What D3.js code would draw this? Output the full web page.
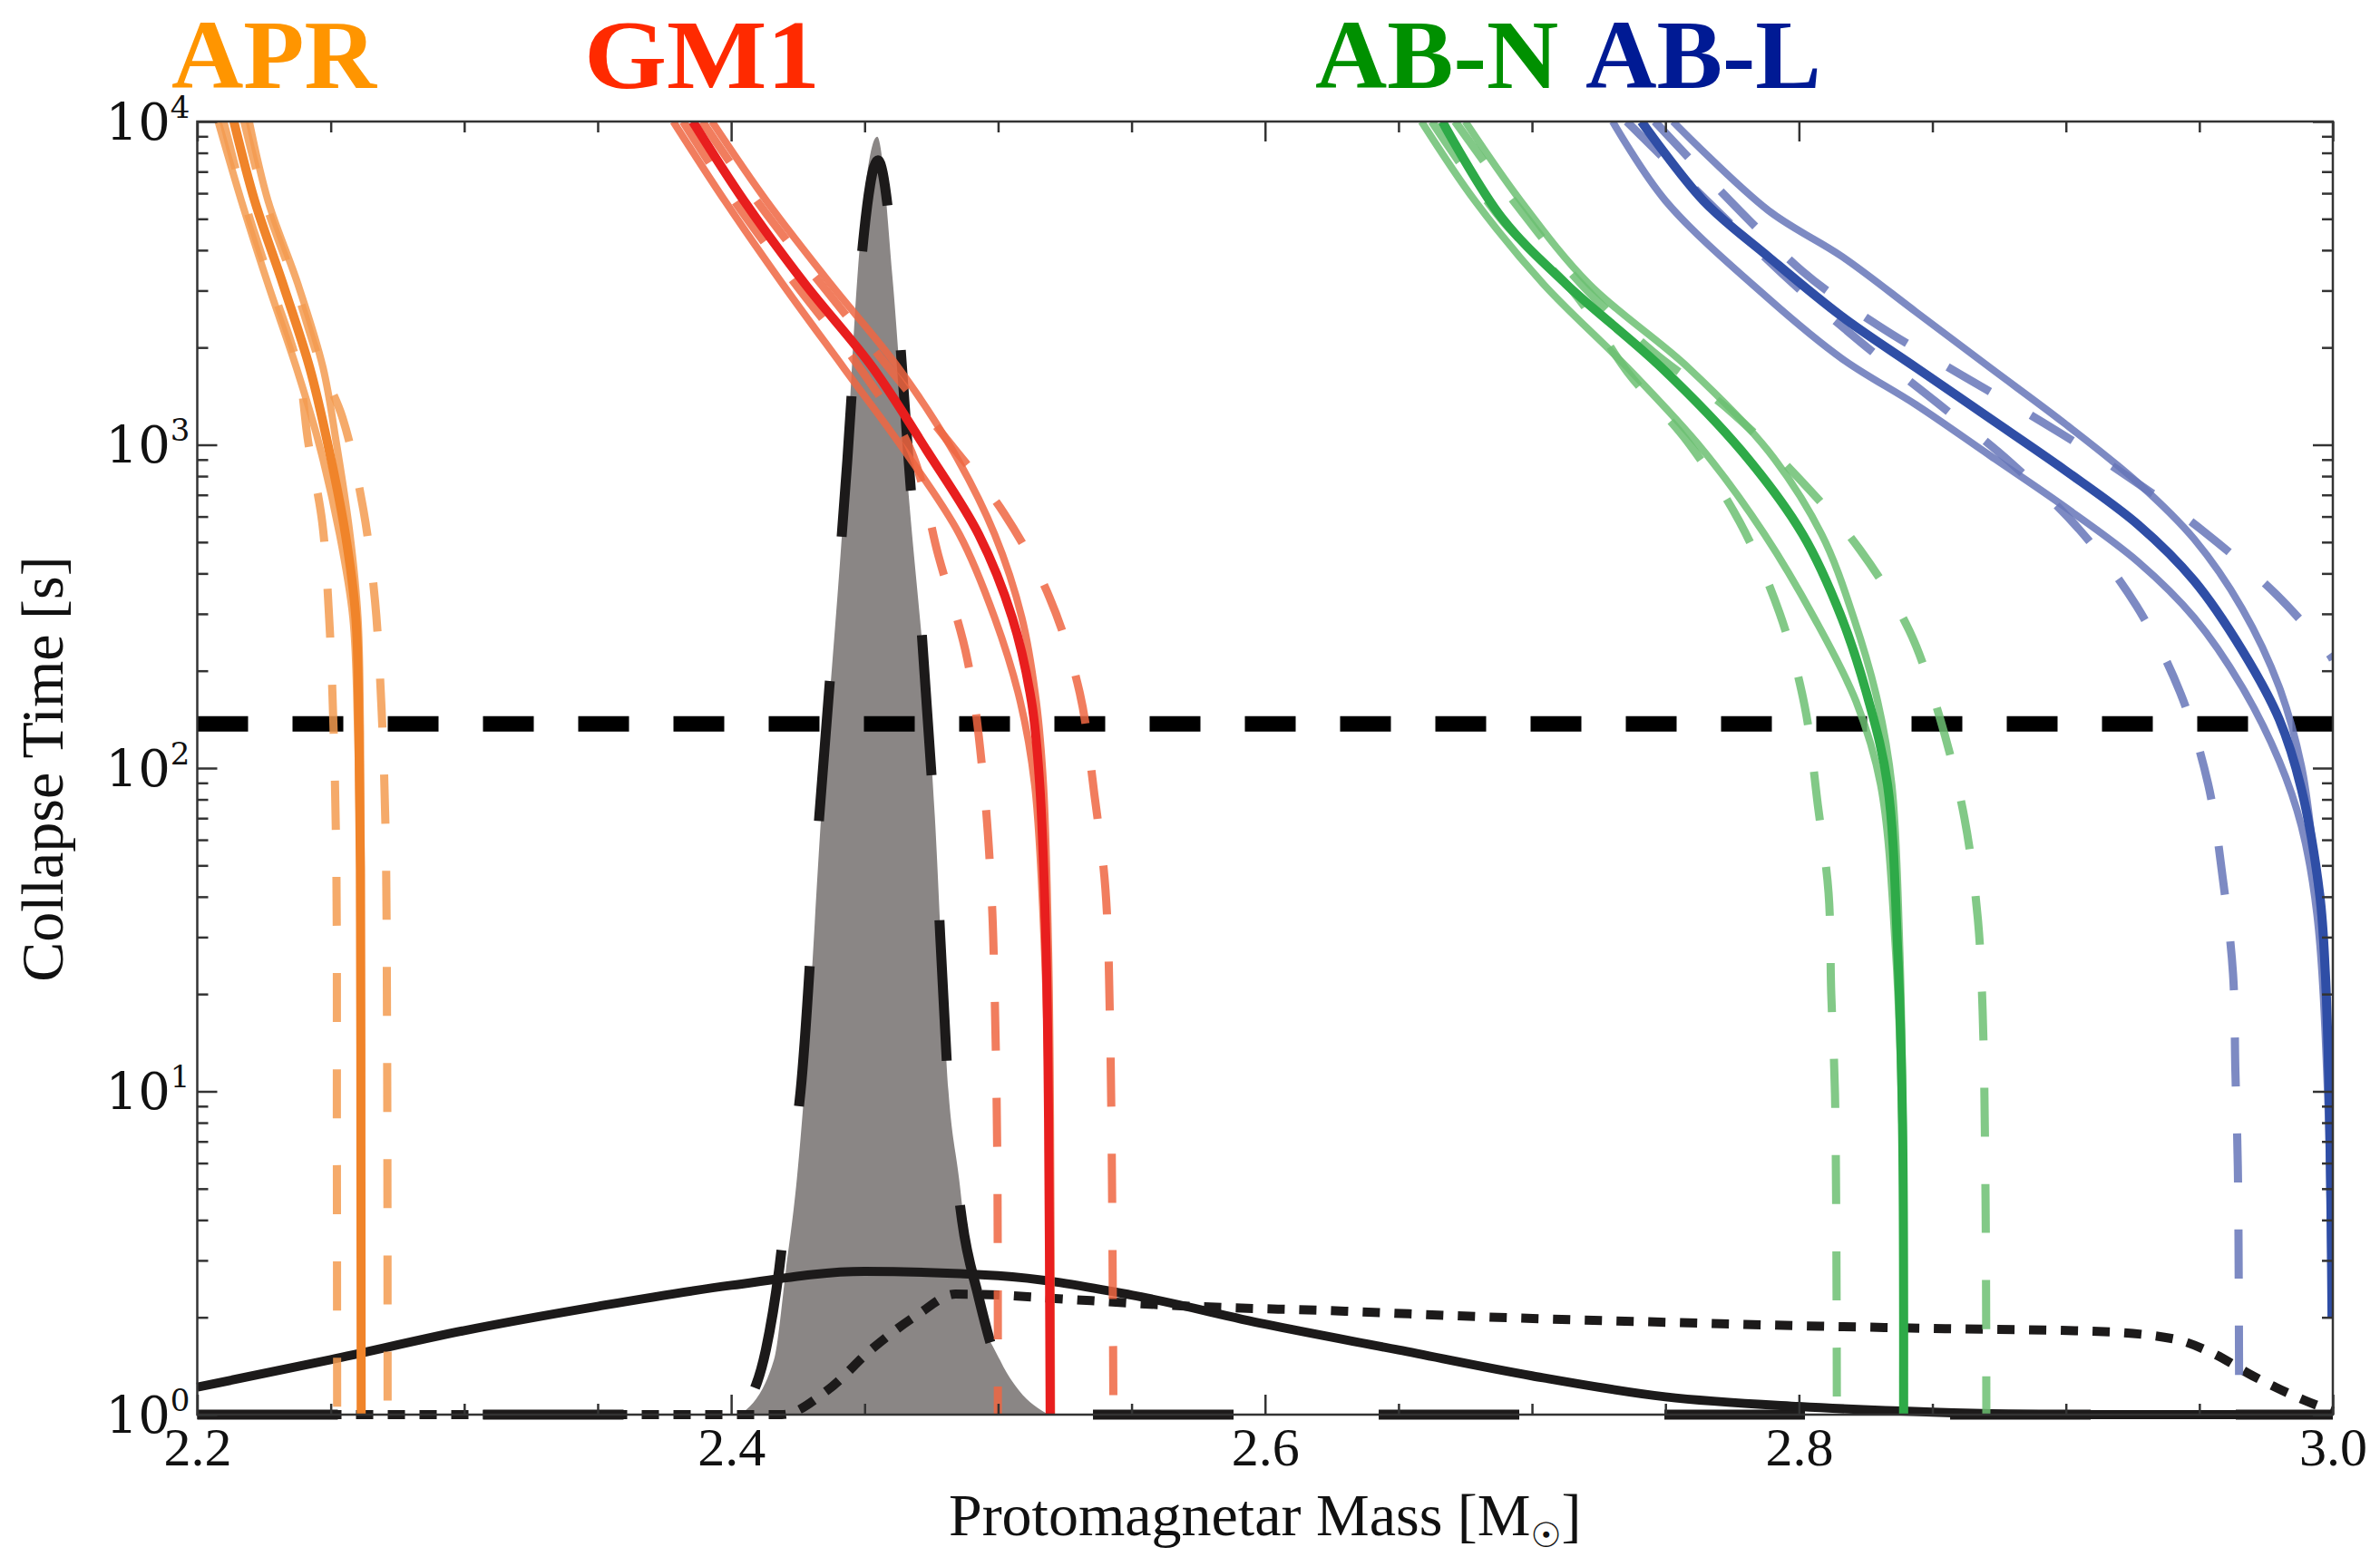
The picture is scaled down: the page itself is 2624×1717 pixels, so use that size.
<!DOCTYPE html>
<meta charset="utf-8" />
<script src="https://d3js.org/d3.v7.min.js"></script>
<style>
  body { margin: 0; background: #fff; }
  svg { display: block; }
</style>
<body>
  <div id="chart"></div>
</body>
<script>
  // all curves are [protomagnetar mass (Msun), log10 collapse time (s)]
  // APR
  const aprMid   = [[2.2137,4.0],[2.2215,3.755],[2.2321,3.497],[2.2421,3.239],[2.2488,3.006],[2.2555,2.723],[2.2594,2.465],[2.2605,2.136],[2.2611,1.69],[2.2613,0.8],[2.2614,0]];
  const aprLo    = [[2.2078,4.0],[2.2165,3.755],[2.2265,3.497],[2.2371,3.239],[2.2455,3.006],[2.2533,2.723],[2.2583,2.465],[2.2600,2.136],[2.2609,1.69],[2.2613,0.8],[2.2614,0]];
  const aprHi    = [[2.2195,4.0],[2.2265,3.755],[2.2377,3.497],[2.2471,3.239],[2.2521,3.006],[2.2572,2.723],[2.2602,2.465],[2.2611,2.136],[2.2614,1.69],[2.2615,0.8],[2.2615,0]];
  const aprDashL = [[2.2098,4.0],[2.2176,3.755],[2.2276,3.497],[2.2377,3.239],[2.2416,3.006],[2.2468,2.761],[2.2494,2.465],[2.2510,2.136],[2.2521,1.69],[2.2523,0.8],[2.2524,0]];
  const aprDashR = [[2.2176,4.0],[2.2254,3.755],[2.2365,3.497],[2.2466,3.239],[2.2544,3.084],[2.2622,2.80],[2.2666,2.516],[2.2689,2.206],[2.2705,1.82],[2.2711,1.174],[2.2713,0]];
  // GM1
  const gm1Mid   = [[2.3856,4.0],[2.4048,3.755],[2.4277,3.497],[2.4530,3.239],[2.4734,2.981],[2.4927,2.723],[2.5053,2.465],[2.5125,2.206],[2.5156,1.948],[2.5180,1.432],[2.5189,0.916],[2.5195,0]];
  const gm1Lo    = [[2.3783,4.0],[2.3976,3.755],[2.4193,3.497],[2.4421,3.239],[2.4650,2.981],[2.4855,2.723],[2.4987,2.465],[2.5083,2.206],[2.5137,1.948],[2.5174,1.432],[2.5189,0.916],[2.5193,0]];
  const gm1Hi    = [[2.3928,4.0],[2.4132,3.755],[2.4373,3.497],[2.4626,3.239],[2.4831,2.981],[2.4987,2.723],[2.5089,2.465],[2.5143,2.206],[2.5170,1.948],[2.5189,1.432],[2.5196,0.916],[2.5200,0]];
  const gm1DashL = [[2.3820,4.0],[2.4012,3.755],[2.4241,3.497],[2.4481,3.239],[2.4674,2.981],[2.4776,2.658],[2.4885,2.335],[2.4945,1.961],[2.4975,1.613],[2.4987,1.303],[2.4997,0.787],[2.4999,0]];
  const gm1DashR = [[2.3892,4.0],[2.4096,3.755],[2.4337,3.497],[2.4590,3.239],[2.4818,3.006],[2.5023,2.787],[2.5192,2.529],[2.5306,2.232],[2.5360,1.922],[2.5402,1.626],[2.5420,1.174],[2.5432,0]];
  // AB-N
  const abnMid   = [[2.6664,4.0],[2.6886,3.703],[2.7128,3.497],[2.7485,3.239],[2.7785,2.981],[2.8014,2.723],[2.8160,2.465],[2.8262,2.206],[2.8332,1.948],[2.8370,1.432],[2.8388,0.9],[2.8392,0]];
  const abnLo    = [[2.6586,4.0],[2.6786,3.755],[2.7043,3.497],[2.7357,3.239],[2.7643,2.981],[2.7871,2.723],[2.8057,2.465],[2.8214,2.206],[2.8306,1.948],[2.8362,1.432],[2.8386,0.9],[2.8392,0]];
  const abnHi    = [[2.6750,4.0],[2.6957,3.755],[2.7214,3.497],[2.7585,3.239],[2.7885,2.981],[2.8085,2.723],[2.8205,2.465],[2.8295,2.206],[2.8348,1.948],[2.8378,1.432],[2.8390,0.9],[2.8394,0]];
  const abnDashL = [[2.6625,4.0],[2.6893,3.69],[2.7157,3.471],[2.7357,3.226],[2.7585,3.007],[2.7778,2.761],[2.7928,2.478],[2.8021,2.194],[2.8071,1.884],[2.8111,1.613],[2.8121,1.303],[2.8135,0.993],[2.8142,0]];
  const abnDashR = [[2.6712,4.0],[2.6930,3.755],[2.7185,3.497],[2.7450,3.29],[2.7735,3.11],[2.7992,2.903],[2.8228,2.676],[2.8413,2.426],[2.8528,2.155],[2.8620,1.845],[2.8670,1.535],[2.8688,1.25],[2.8699,0.67],[2.8702,0]];
  // AB-L
  const ablMid   = [[2.7410,4.0],[2.7642,3.755],[2.7885,3.582],[2.8162,3.396],[2.8440,3.238],[2.8717,3.081],[2.8994,2.923],[2.9272,2.752],[2.9480,2.58],[2.9660,2.365],[2.9799,2.151],[2.9882,1.936],[2.9951,1.608],[2.9972,1.365],[2.9986,1.0],[2.9993,0.635],[2.9997,0.3]];
  const ablLo    = [[2.7302,4.0],[2.7500,3.755],[2.7885,3.453],[2.8162,3.266],[2.8440,3.123],[2.8717,2.966],[2.8994,2.809],[2.9272,2.637],[2.9480,2.466],[2.9660,2.251],[2.9799,2.022],[2.9882,1.821],[2.9940,1.55],[2.9980,1.0],[2.9995,0.3]];
  const ablHi    = [[2.7528,4.0],[2.7885,3.725],[2.8162,3.582],[2.8440,3.41],[2.8717,3.238],[2.8994,3.067],[2.9272,2.881],[2.9480,2.709],[2.9660,2.494],[2.9799,2.251],[2.9882,2.008],[2.9924,1.767],[2.9960,1.5],[2.9985,1.0],[2.9998,0.3]];
  const ablDashL = [[2.7355,4.0],[2.7954,3.517],[2.8232,3.317],[2.8516,3.131],[2.8793,2.945],[2.9050,2.738],[2.9265,2.501],[2.9427,2.236],[2.9533,1.95],[2.9588,1.657],[2.9626,1.365],[2.9635,1.061],[2.9644,0.769],[2.9648,0.3],[2.9649,0]];
  const ablDashR = [[2.7460,4.0],[2.8010,3.539],[2.8301,3.367],[2.8606,3.217],[2.8918,3.067],[2.9223,2.907],[2.9519,2.73],[2.9788,2.537],[2.9986,2.354],[3.0000,2.335]];

  // mass distributions (same axes)
  const grayHist = [[2.4035,0],[2.416,0.169],[2.4205,0.446],[2.4246,0.728],[2.4274,1.0],[2.4337,1.85],[2.4433,2.948],[2.4473,3.52],[2.4547,3.953],[2.4604,3.52],[2.4655,2.948],[2.4763,1.85],[2.4814,1.0],[2.4854,0.728],[2.4894,0.446],[2.5007,0.169],[2.5078,0.075],[2.519,0]];
  const fitDash  = [[2.2,0],[2.40,0],[2.407,0.05],[2.413,0.2],[2.418,0.45],[2.422,0.75],[2.426,1.0],[2.433,1.85],[2.4435,2.95],[2.448,3.5],[2.455,3.88],[2.4615,3.5],[2.4665,2.95],[2.476,1.85],[2.4815,1.0],[2.4865,0.6],[2.4925,0.37],[2.5,0.15],[2.507,0.05],[2.515,0],[3.0,0]];
  const solidPdf = [[2.2,0.085],[2.25,0.17],[2.30,0.26],[2.35,0.335],[2.40,0.40],[2.45,0.443],[2.50,0.43],[2.55,0.37],[2.60,0.28],[2.65,0.20],[2.70,0.12],[2.75,0.055],[2.80,0.025],[2.85,0.008],[2.90,0.0],[3.0,0]];
  const dotPdf   = [[2.2,0],[2.419,0],[2.436,0.075],[2.453,0.205],[2.47,0.31],[2.484,0.373],[2.50,0.37],[2.52,0.36],[2.57,0.336],[2.63,0.32],[2.68,0.303],[2.74,0.288],[2.80,0.275],[2.855,0.266],[2.91,0.258],[2.94,0.235],[2.955,0.19],[2.97,0.12],[2.985,0.06],[3.0,0.01]];

  const collapseLimit = 137; // s, horizontal dashed line
  const xTicks = [2.2, 2.4, 2.6, 2.8, 3.0];
  const xTickLabels = ["2.2", "2.4", "2.6", "2.8", "3.0"];
  const yDecades = [0, 1, 2, 3, 4];
  const eosNames = ["APR", "GM1", "AB-N", "AB-L"];

  const eosCurves = {
    "APR":  {lo: aprLo, hi: aprHi, dashL: aprDashL, dashR: aprDashR, mid: aprMid},
    "GM1":  {lo: gm1Lo, hi: gm1Hi, dashL: gm1DashL, dashR: gm1DashR, mid: gm1Mid},
    "AB-N": {lo: abnLo, hi: abnHi, dashL: abnDashL, dashR: abnDashR, mid: abnMid},
    "AB-L": {lo: ablLo, hi: ablHi, dashL: ablDashL, dashR: ablDashR, mid: ablMid}
  };

  // styles
  const eosStyle = {
    "APR":  {main: "#f0842a", band: "#f39b50", title: "#ff9500", tx: 2.1903, tw: 226},
    "GM1":  {main: "#e81e1e", band: "#ef6642", title: "#ff2a00", tx: 2.3449, tw: 260},
    "AB-N": {main: "#2eaa48", band: "#6cbf72", title: "#009000", tx: 2.6188, tw: 268},
    "AB-L": {main: "#2f4ea6", band: "#6675b9", title: "#001a94", tx: 2.7200, tw: 260}
  };

  const margin = {top: 134, right: 52, bottom: 157, left: 217.5},
      width = 2624 - margin.left - margin.right,
      height = 1717 - margin.top - margin.bottom;

  const svgRoot = d3.select("#chart")
    .append("svg")
      .attr("width", 2624)
      .attr("height", 1717);

  const svg = svgRoot.append("g")
      .attr("transform", "translate(" + margin.left + "," + margin.top + ")");

  const x = d3.scaleLinear().domain([2.2, 3.0]).range([0, width]);
  const y = d3.scaleLog().domain([1, 1e4]).range([height, 0]);
  const ty = e => y(Math.pow(10, e));

  svg.append("clipPath").attr("id", "plotclip")
    .append("rect").attr("x", 0).attr("y", 0).attr("width", width).attr("height", height);

  // generators
  const eosLine = d3.line().x(d => x(d[0])).y(d => ty(d[1])).curve(d3.curveCatmullRom.alpha(0.5));
  const pdfLine = d3.line().x(d => x(d[0])).y(d => ty(d[1])).curve(d3.curveMonotoneX);
  const histArea = d3.area().x(d => x(d[0])).y0(height).y1(d => ty(d[1])).curve(d3.curveMonotoneX);

  // gray histogram
  svg.append("path")
    .datum(grayHist)
    .attr("d", histArea)
    .attr("fill", "#8a8685");

  // black distributions
  svg.append("path").datum(fitDash).attr("d", pdfLine)
    .attr("fill", "none").attr("stroke", "#1c1a1a").attr("stroke-width", 11)
    .attr("stroke-dasharray", "155,160");
  svg.append("path").datum(solidPdf).attr("d", pdfLine)
    .attr("fill", "none").attr("stroke", "#1c1a1a").attr("stroke-width", 10);
  svg.append("path").datum(dotPdf).attr("d", pdfLine)
    .attr("fill", "none").attr("stroke", "#1c1a1a").attr("stroke-width", 10)
    .attr("stroke-dasharray", "19,16");

  // collapse time limit
  svg.append("line")
    .attr("x1", 0).attr("x2", width)
    .attr("y1", y(collapseLimit)).attr("y2", y(collapseLimit))
    .attr("stroke", "#000").attr("stroke-width", 17)
    .attr("stroke-dasharray", "56,49");

  // EOS curves
  const eosG = svg.append("g").attr("clip-path", "url(#plotclip)");
  eosNames.forEach(function(name) {
    const c = eosCurves[name], s = eosStyle[name];
    const g = eosG.append("g");
    [c.lo, c.hi].forEach(function(d) {
      g.append("path").datum(d).attr("d", eosLine)
        .attr("fill", "none").attr("stroke", s.band).attr("stroke-width", 8)
        .attr("stroke-opacity", 0.85);
    });
    [c.dashL, c.dashR].forEach(function(d) {
      g.append("path").datum(d).attr("d", eosLine)
        .attr("fill", "none").attr("stroke", s.band).attr("stroke-width", 9)
        .attr("stroke-opacity", 0.85).attr("stroke-dasharray", "54,52");
    });
    g.append("path").datum(c.mid).attr("d", eosLine)
      .attr("fill", "none").attr("stroke", s.main).attr("stroke-width", 10);
  });

  // axes (ticks pointing inwards on all four sides)
  const minorX = d3.range(0, 17).map(i => 2.2 + i * 0.05).filter(v => !xTicks.some(t => Math.abs(t - v) < 1e-6));
  const minorY = [];
  [0, 1, 2, 3].forEach(k => { for (let m = 2; m <= 9; m++) minorY.push(m * Math.pow(10, k)); });
  const majorY = yDecades.map(k => Math.pow(10, k));

  function styleAxis(g) {
    g.select(".domain").remove();
    g.selectAll(".tick line").attr("stroke", "#333").attr("stroke-width", 2.5);
  }

  const xAxis = svg.append("g")
    .attr("transform", "translate(0," + height + ")")
    .call(d3.axisBottom(x).tickValues(xTicks).tickSize(-22).tickPadding(13)
      .tickFormat((d, i) => xTickLabels[i]))
    .call(styleAxis);
  xAxis.selectAll("text")
    .attr("font-family", "Liberation Serif, serif").attr("font-size", 60).attr("fill", "#111");
  svg.append("g").attr("transform", "translate(0," + height + ")")
    .call(d3.axisBottom(x).tickValues(minorX).tickSize(-12).tickFormat(""))
    .call(styleAxis);
  svg.append("g")
    .call(d3.axisTop(x).tickValues(xTicks).tickSize(-22).tickFormat(""))
    .call(styleAxis);
  svg.append("g")
    .call(d3.axisTop(x).tickValues(minorX).tickSize(-12).tickFormat(""))
    .call(styleAxis);

  const yAxis = svg.append("g")
    .call(d3.axisLeft(y).tickValues(majorY).tickSize(-22).tickPadding(8).tickFormat(""))
    .call(styleAxis);
  yAxis.selectAll(".tick text")
    .attr("font-family", "DejaVu Serif, serif").attr("font-size", 56).attr("fill", "#111")
    .attr("dy", "0.34em")
    .each(function(d) {
      const t = d3.select(this);
      t.append("tspan").text("10");
      t.append("tspan").attr("font-size", 34).attr("dy", -24).text(Math.round(Math.log10(d)));
    });
  svg.append("g")
    .call(d3.axisLeft(y).tickValues(minorY).tickSize(-12).tickFormat(""))
    .call(styleAxis);
  svg.append("g").attr("transform", "translate(" + width + ",0)")
    .call(d3.axisRight(y).tickValues(majorY).tickSize(-22).tickFormat(""))
    .call(styleAxis);
  svg.append("g").attr("transform", "translate(" + width + ",0)")
    .call(d3.axisRight(y).tickValues(minorY).tickSize(-12).tickFormat(""))
    .call(styleAxis);

  // frame
  svg.append("rect")
    .attr("x", 0).attr("y", 0).attr("width", width).attr("height", height)
    .attr("fill", "none").attr("stroke", "#333").attr("stroke-width", 2.5);

  // axis titles
  svg.append("text")
    .attr("transform", "translate(" + (69 - margin.left) + "," + (848 - margin.top) + ") rotate(-90)")
    .attr("text-anchor", "middle")
    .attr("font-family", "Liberation Serif, serif").attr("font-size", 66).attr("fill", "#111")
    .text("Collapse Time [s]");

  const xt = svg.append("text")
    .attr("x", width / 2).attr("y", height + 133)
    .attr("text-anchor", "middle")
    .attr("font-family", "Liberation Serif, serif").attr("font-size", 66).attr("fill", "#111");
  xt.append("tspan").text("Protomagnetar Mass [M");
  xt.append("tspan").attr("font-size", 38).attr("dy", 13).attr("font-family", "DejaVu Sans, sans-serif").text("\u2609");
  xt.append("tspan").attr("dy", -13).text("]");

  // EOS names above the plot
  eosNames.forEach(function(name) {
    const s = eosStyle[name];
    svg.append("text")
      .attr("x", x(s.tx)).attr("y", 97 - margin.top)
      .attr("font-family", "Liberation Serif, serif").attr("font-weight", "bold")
      .attr("font-size", 108).attr("fill", s.title)
      .attr("textLength", s.tw).attr("lengthAdjust", "spacingAndGlyphs")
      .text(name);
  });
</script>
